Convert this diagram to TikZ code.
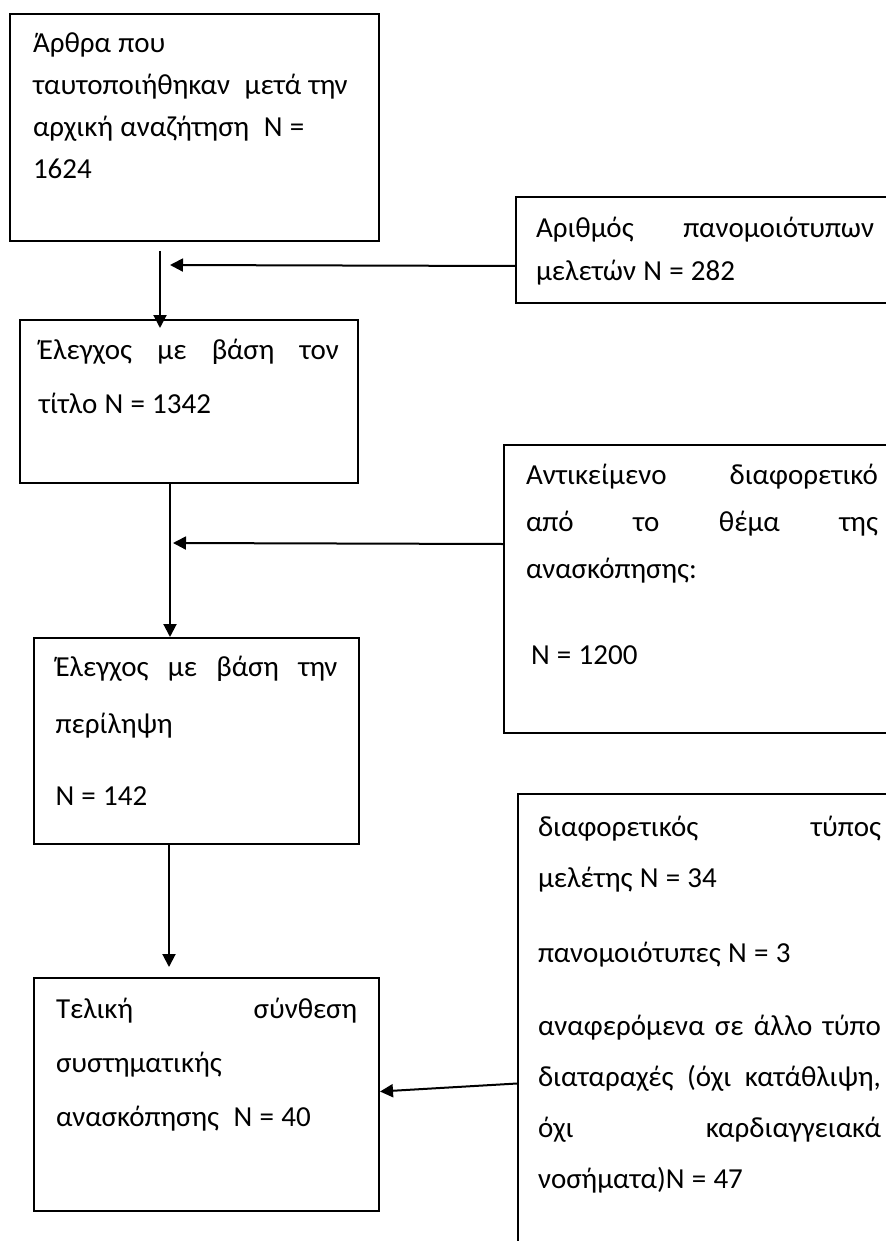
\documentclass[tikz,border=0pt]{standalone}
\usepackage{fontspec}
\setmainfont{Carlito}
\usetikzlibrary{arrows.meta}
\newcommand{\justline}[1]{\makebox[\linewidth][s]{\spaceskip=0.23em plus 1fil\relax #1}}

\begin{document}
\begin{tikzpicture}[x=0.5pt, y=-0.5pt,
  box/.style={draw, line width=1pt, anchor=north west, inner ysep=0pt,
              execute at begin node={\spaceskip=0.25em\xspaceskip=0.25em\relax}},
  flarrow/.style={-{Triangle[length=6.5pt,width=6.5pt]}, line width=1pt}
]
  \useasboundingbox (0,0) rectangle (886,1241);
  \clip (0,0) rectangle (886,1241);

  % ── Left: screening steps ──
  \node[box, text width=161.5pt, inner xsep=11.5pt, text height=19.5pt, text depth=94pt,
        font=\fontsize{14.5}{21}\selectfont] (art) at (9,13)
    {Άρθρα~που\\
     ταυτοποιήθηκαν~~μετά~την\\
     αρχική~αναζήτηση~~N~=\\
     1624};
  \node[box, text width=150pt, inner xsep=9.5pt, text height=19.5pt, text depth=62pt,
        font=\fontsize{14.5}{27}\selectfont] (title) at (19,319)
    {\justline{Έλεγχος με βάση τον}\\
     τίτλο N = 1342};
  \node[box, text width=141pt, inner xsep=10.75pt, text height=19pt, text depth=84pt,
        font=\fontsize{14.5}{28.5}\selectfont] (abstr) at (33,637)
    {\justline{Έλεγχος με βάση την}\\
     περίληψη\\[7.5pt]
     N = 142};
  \node[box, text width=150.5pt, inner xsep=11pt, text height=20pt, text depth=96.5pt,
        font=\fontsize{14.5}{27}\selectfont] (final) at (33,977)
    {\justline{Τελική σύνθεση}\\
     συστηματικής\\
     ανασκόπησης~~N~=~40};

  % ── Right: excluded records ──
  \node[box, text width=169pt, inner xsep=10pt, text height=20pt, text depth=33pt,
        font=\fontsize{14.5}{21.5}\selectfont] (dup) at (515,196)
    {\justline{Αριθμός πανομοιότυπων}\\
     μελετών N = 282};
  \node[box, text width=176pt, inner xsep=11pt, text height=19.5pt, text depth=124.5pt,
        font=\fontsize{14.5}{23.5}\selectfont] (excl1) at (503,444)
    {\justline{Αντικείμενο διαφορετικό}\\
     \justline{από το θέμα της}\\
     ανασκόπησης:\\[19.5pt]
     \hspace*{2.5pt}N = 1200};
  \node[box, text width=171.5pt, inner xsep=10pt, text height=21pt, text depth=212.5pt,
        font=\fontsize{14.5}{25.5}\selectfont] (excl2) at (517,793)
    {\justline{διαφορετικός τύπος}\\
     μελέτης N = 34\\[12pt]
     πανομοιότυπες N = 3\\[11pt]
     \justline{αναφερόμενα σε άλλο τύπο}\\
     \justline{διαταραχές (όχι κατάθλιψη,}\\
     \justline{όχι καρδιαγγειακά}\\
     νοσήματα)N = 47};

  % Arrows: down the left column
  \draw[flarrow] ([shift={(151,9)}]art.south west) -- ([shift={(141,9)}]title.north west);
  \draw[flarrow] ([shift={(151,0)}]title.south west) -- ([shift={(137,0)}]abstr.north west);
  \draw[flarrow] ([shift={(136,0)}]abstr.south west) -- ([shift={(136,-10)}]final.north west);

  % Arrows: exclusions pointing left
  \coordinate (m1) at (170,265);
  \coordinate (m2) at (173,543);
  \draw[flarrow] ([shift={(0,16)}]dup.west) -- (m1);
  \draw[flarrow] ([shift={(0,-45)}]excl1.west) -- (m2);
  \draw[flarrow] ([shift={(0,56)}]excl2.west) -- ([shift={(0,-3)}]final.east);
\end{tikzpicture}
\end{document}
